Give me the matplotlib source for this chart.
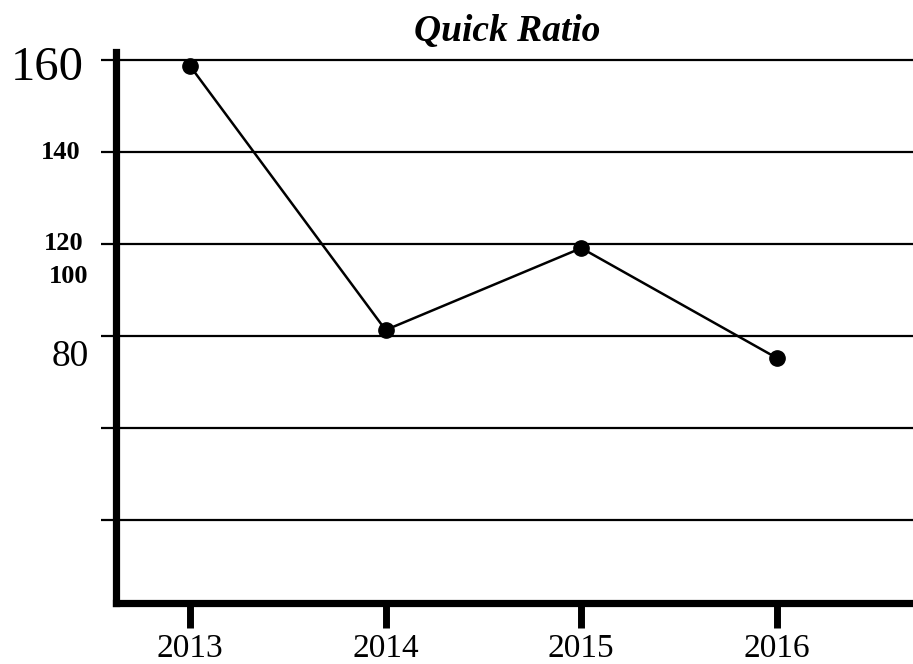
import matplotlib
matplotlib.use("Agg")
import matplotlib.pyplot as plt
import matplotlib.transforms as mtransforms

# Quick ratio by fiscal year
years = ["2013", "2014", "2015", "2016"]
quick_ratio = [158.7, 101.3, 119.1, 95.2]

# Horizontal reference lines and the axis labels printed beside them
grid_levels = [160, 140, 120, 100, 80, 60]
label_texts = ["160", "140", "120", "100", "80"]
label_levels = [158.3, 139.8, 120.2, 113.0, 95.5]
label_sizes = [35, 19, 19, 19, 27]
label_weights = ["normal", "bold", "bold", "bold", "normal"]

serif = ["Liberation Serif", "DejaVu Serif"]

fig = plt.figure(figsize=(9.13, 6.64), dpi=100)
ax = fig.add_axes([0.127, 0.0919, 0.873, 0.8298])

xs = list(range(len(years)))
ax.plot(xs, quick_ratio, color="black", linewidth=1.8, marker="o",
        markersize=11, zorder=3, clip_on=False)

ax.set_xlim(-0.378, 3.695)
ax.set_ylim(42, 161.7)

# gridlines
for g in grid_levels:
    ax.axhline(g, color="black", linewidth=1.6, zorder=1)
ax.set_yticks(grid_levels)
ax.set_yticklabels([])
ax.tick_params(axis="y", length=11, width=1.6, direction="out", color="black")

ax.set_xticks(xs)
ax.set_xticklabels(years, fontfamily=serif, fontsize=24)
ax.tick_params(axis="x", length=18, width=5, direction="out", color="black", pad=4)

for side in ["top", "right"]:
    ax.spines[side].set_visible(False)
for side in ["left", "bottom"]:
    ax.spines[side].set_linewidth(5.2)
    ax.spines[side].set_color("black")
    ax.spines[side].set_capstyle("projecting")

trans = mtransforms.blended_transform_factory(ax.transAxes, ax.transData)
x_right = [-0.041, -0.044, -0.041, -0.034, -0.034]
for txt, lvl, sz, wt, xr in zip(label_texts, label_levels, label_sizes, label_weights, x_right):
    ax.text(xr, lvl, txt, transform=trans, ha="right", va="center",
            fontsize=sz, fontweight=wt, fontfamily=serif)

fig.text(0.556, 0.953, "Quick Ratio", ha="center", va="center", fontsize=27,
         fontweight="bold", fontstyle="italic", fontfamily=serif)

fig.savefig("out.png", dpi=100)
